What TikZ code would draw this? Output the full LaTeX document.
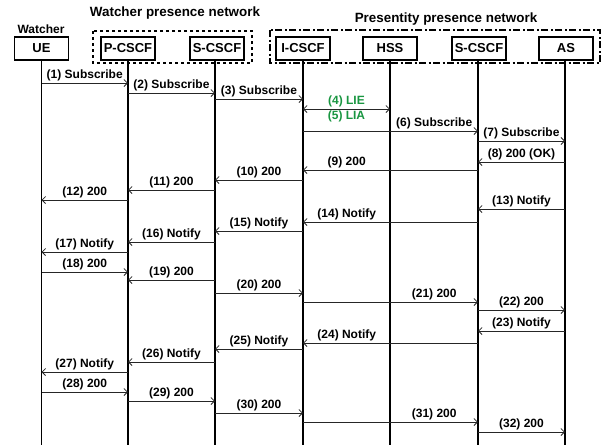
\documentclass[tikz,border=0pt]{standalone}
\usepackage{fontspec}
\setmainfont{Liberation Sans}
\usetikzlibrary{arrows.meta,positioning}
\definecolor{liegreen}{RGB}{25,150,65}
\begin{document}
\begin{tikzpicture}[
  x=1pt, y=-1pt,
  font=\bfseries\fontsize{12}{14}\selectfont,
  >={Straight Barb[length=3.5pt,width=7pt]},
  entity/.style={draw, line width=1.5pt, minimum width=54pt, minimum height=23pt, inner sep=0pt, font=\bfseries\fontsize{13}{15}\selectfont},
  lifeline/.style={line width=1.5pt},
  msg/.style={->, line width=0.75pt, black!85},
  lbl/.style={above, inner sep=1.5pt, text=black},
  grp/.style={line width=1.5pt}
]
\useasboundingbox (0,0) rectangle (603,445);
\draw[grp, dash pattern=on 3pt off 3pt] (93,31) rectangle (252,63);
\draw[grp, dash pattern=on 7pt off 2.5pt on 2pt off 2.5pt] (270,30) rectangle (600,63);
\node[entity] (ue) at (41.5,48.5) {UE};
\node[entity, fill=white] (pcscf) at (128,48.5) {P-CSCF};
\node[entity, fill=white] (scscf) at (217,48.5) {S-CSCF};
\node[entity, fill=white] (icscf) at (303,48.5) {I-CSCF};
\node[entity, fill=white] (hss) at (390,48.5) {HSS};
\node[entity, fill=white] (scscfb) at (479,48.5) {S-CSCF};
\node[entity, fill=white] (as) at (566,48.5) {AS};
\node (watcher) at (41,29) {Watcher};
\node[font=\bfseries\fontsize{13.4}{15}\selectfont] (wnet) at (175,13) {Watcher presence network};
\node[font=\bfseries\fontsize{13.4}{15}\selectfont] (pnet) at (446,19) {Presentity presence network};
\coordinate (ueend) at (41.5,445);
\coordinate (pend) at (128,445);
\coordinate (send) at (215,445);
\coordinate (iend) at (303,445);
\coordinate (hend) at (390,445);
\coordinate (sbend) at (478,445);
\coordinate (aend) at (565,445);
\draw[lifeline] (ue.south) -- (ue.south |- ueend);
\draw[lifeline] (pcscf.south) -- (pcscf.south |- pend);
\draw[lifeline] (215,60) -- (send);
\draw[lifeline] (icscf.south) -- (icscf.south |- iend);
\draw[lifeline] (hss.south) -- (hss.south |- hend);
\draw[lifeline] (478,60) -- (sbend);
\draw[lifeline] (565,60) -- (aend);
\draw[msg] (ue |- 0,83) -- node[lbl] {(1) Subscribe} (pend |- 0,83);
\draw[msg] (pend |- 0,93) -- node[lbl] {(2) Subscribe} (send |- 0,93);
\draw[msg] (send |- 0,99) -- node[lbl] {(3) Subscribe} (iend |- 0,99);
\draw[msg, <->] (iend |- 0,109) -- node[lbl, text=liegreen] {(4) LIE} node[below, inner sep=1.5pt, text=liegreen] {(5) LIA} (hend |- 0,109);
\draw[msg] (iend |- 0,131) -- node[lbl, pos=.75] {(6) Subscribe} (sbend |- 0,131);
\draw[msg] (sbend |- 0,141) -- node[lbl] {(7) Subscribe} (aend |- 0,141);
\draw[msg] (aend |- 0,162) -- node[lbl] {(8) 200 (OK)} (sbend |- 0,162);
\draw[msg] (sbend |- 0,170) -- node[lbl, pos=.75] {(9) 200} (iend |- 0,170);
\draw[msg] (iend |- 0,180) -- node[lbl] {(10) 200} (send |- 0,180);
\draw[msg] (send |- 0,190) -- node[lbl] {(11) 200} (pend |- 0,190);
\draw[msg] (pend |- 0,200) -- node[lbl] {(12) 200} (ueend |- 0,200);
\draw[msg] (aend |- 0,209) -- node[lbl] {(13) Notify} (sbend |- 0,209);
\draw[msg] (sbend |- 0,222) -- node[lbl, pos=.75] {(14) Notify} (iend |- 0,222);
\draw[msg] (iend |- 0,231) -- node[lbl] {(15) Notify} (send |- 0,231);
\draw[msg] (send |- 0,242) -- node[lbl] {(16) Notify} (pend |- 0,242);
\draw[msg] (pend |- 0,252) -- node[lbl] {(17) Notify} (ueend |- 0,252);
\draw[msg] (ueend |- 0,272) -- node[lbl] {(18) 200} (pend |- 0,272);
\draw[msg] (send |- 0,280) -- node[lbl] {(19) 200} (pend |- 0,280);
\draw[msg] (send |- 0,293) -- node[lbl] {(20) 200} (iend |- 0,293);
\draw[msg] (iend |- 0,302) -- node[lbl, pos=.75] {(21) 200} (sbend |- 0,302);
\draw[msg] (sbend |- 0,310) -- node[lbl] {(22) 200} (aend |- 0,310);
\draw[msg] (aend |- 0,331) -- node[lbl] {(23) Notify} (sbend |- 0,331);
\draw[msg] (sbend |- 0,343) -- node[lbl, pos=.75] {(24) Notify} (iend |- 0,343);
\draw[msg] (iend |- 0,349) -- node[lbl] {(25) Notify} (send |- 0,349);
\draw[msg] (send |- 0,362) -- node[lbl] {(26) Notify} (pend |- 0,362);
\draw[msg] (pend |- 0,372) -- node[lbl] {(27) Notify} (ueend |- 0,372);
\draw[msg] (ueend |- 0,392) -- node[lbl] {(28) 200} (pend |- 0,392);
\draw[msg] (pend |- 0,401) -- node[lbl] {(29) 200} (send |- 0,401);
\draw[msg] (send |- 0,413) -- node[lbl] {(30) 200} (iend |- 0,413);
\draw[msg] (iend |- 0,422) -- node[lbl, pos=.75] {(31) 200} (sbend |- 0,422);
\draw[msg] (sbend |- 0,432) -- node[lbl] {(32) 200} (aend |- 0,432);
\end{tikzpicture}
\end{document}
